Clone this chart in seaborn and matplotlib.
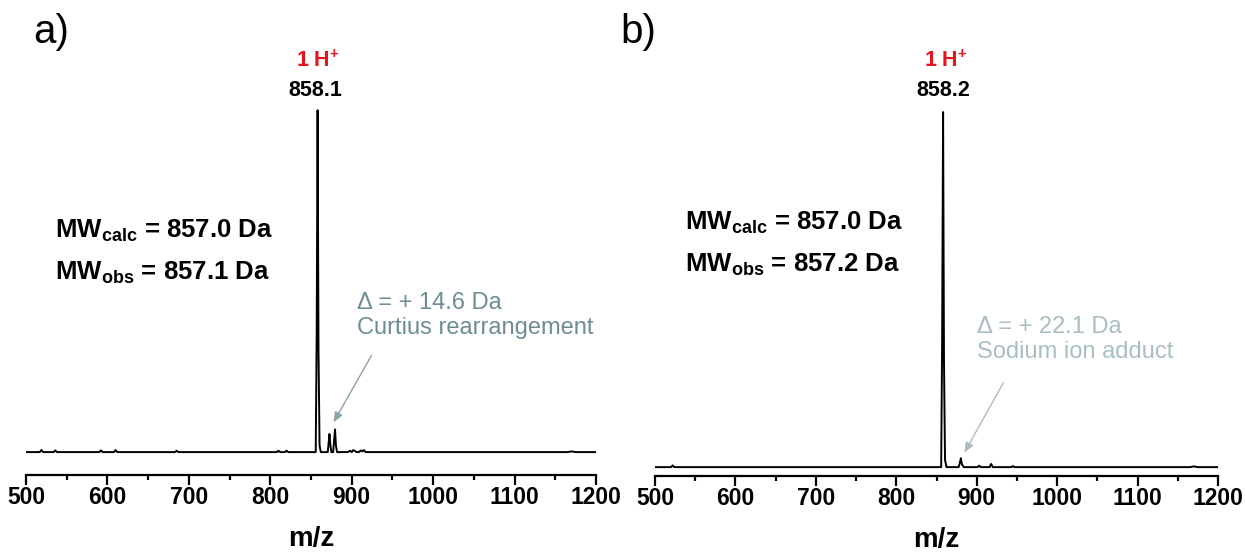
import matplotlib
matplotlib.use("Agg")
import matplotlib.pyplot as plt
from matplotlib.ticker import MultipleLocator
import seaborn as sns

# spectrum a) : m/z and relative intensity (peak list read off the picture)
mz_a = [500, 517, 519, 521, 534, 536, 538, 590, 592, 594, 608, 610, 612,
        683, 685, 687, 808, 810, 812, 818, 820, 822, 855.8, 857.0, 858.1,
        859.2, 860.5, 862.0, 870.6, 871.6, 872.7, 873.8, 875.0, 877.2,
        878.4, 879.5, 880.6, 882.0, 895.0, 898.0, 900.0, 902.0, 906.0,
        909.0, 911.0, 913.0, 915.0, 917.0, 921.0, 1000, 1100, 1165, 1170, 1175, 1200]
int_a = [0.0, 0.0, 0.006, 0.0, 0.0, 0.005, 0.0, 0.0, 0.005, 0.0, 0.0, 0.006, 0.0,
         0.0, 0.004, 0.0, 0.0, 0.004, 0.0, 0.0, 0.004, 0.0, 0.0, 0.35, 1.0,
         0.30, 0.02, 0.0, 0.0, 0.025, 0.053, 0.02, 0.0, 0.0,
         0.035, 0.066, 0.02, 0.0, 0.0, 0.004, 0.0, 0.006, 0.0,
         0.0, 0.005, 0.002, 0.006, 0.0, 0.0, 0.0, 0.0, 0.0, 0.002, 0.0, 0.0]

# spectrum b)
mz_b = [500, 520, 522, 524, 700, 855.8, 857.0, 858.2, 859.3, 860.6, 862.5,
        877.5, 879.0, 880.3, 881.6, 884.0, 901.0, 903.0, 905.0, 916.0, 918.0,
        920.0, 943.0, 945.0, 947.0, 1100, 1165, 1170, 1175, 1200]
int_b = [0.0, 0.0, 0.005, 0.0, 0.0, 0.0, 0.35, 1.0, 0.30, 0.02, 0.0,
         0.0, 0.012, 0.025, 0.008, 0.0, 0.0, 0.004, 0.0, 0.0, 0.009,
         0.0, 0.0, 0.003, 0.0, 0.0, 0.0, 0.002, 0.0, 0.0]

panel_labels = ["a)", "b)"]
ion_label = r"1 H$^{\mathbf{+}}$"
peak_labels = ["858.1", "858.2"]
mw_calc = ["857.0", "857.0"]
mw_obs = ["857.1", "857.2"]
delta_text = ["\u0394 = + 14.6 Da\nCurtius rearrangement",
              "\u0394 = + 22.1 Da\nSodium ion adduct"]

sns.set_style("white")
plt.rcParams["font.family"] = ["Liberation Sans", "DejaVu Sans"]
plt.rcParams["mathtext.fontset"] = "custom"
plt.rcParams["mathtext.rm"] = "Liberation Sans"
plt.rcParams["mathtext.bf"] = "Liberation Sans:bold"
plt.rcParams["text.color"] = "black"
plt.rcParams["axes.labelcolor"] = "black"
plt.rcParams["xtick.color"] = "black"

W, H = 1245, 552
fig = plt.figure(figsize=(W / 100, H / 100), dpi=100)


def px(x, y):
    return x / W, 1 - y / H


# axes boxes in pixels: left, right, spine y, top y ; ylim
boxes = [(26, 596, 475, 100, (-0.067, 1.03)),
         (655, 1218, 476, 100, (-0.025, 1.034))]
data = [(mz_a, int_a), (mz_b, int_b)]

axes = []
for (l, r, b, t, yl), (mz, inten) in zip(boxes, data):
    ax = fig.add_axes([l / W, 1 - b / H, (r - l) / W, (b - t) / H])
    sns.lineplot(x=mz, y=inten, ax=ax, color="black", lw=1.4, estimator=None)
    ax.set_xlim(500, 1200)
    ax.set_ylim(*yl)
    for s in ["left", "right", "top"]:
        ax.spines[s].set_visible(False)
    ax.spines["bottom"].set_linewidth(1.6)
    ax.spines["bottom"].set_color("black")
    ax.set_yticks([])
    ax.xaxis.set_major_locator(MultipleLocator(100))
    ax.xaxis.set_minor_locator(MultipleLocator(50))
    ax.tick_params(axis="x", which="major", direction="out", length=7, width=1.6,
                   pad=1, labelsize=16.5, bottom=True)
    ax.tick_params(axis="x", which="minor", direction="out", length=3.5, width=1.6,
                   bottom=True)
    for lab in ax.get_xticklabels():
        lab.set_fontweight("bold")
    ax.set_xlabel("m/z", fontsize=20, fontweight="bold")
    ax.xaxis.set_label_coords(0.5, -0.135)
    ax.set_ylabel("")
    axes.append(ax)

# panel letters
fig.text(*px(33, 32), panel_labels[0], fontsize=29, va="center", ha="left")
fig.text(*px(620, 32), panel_labels[1], fontsize=29, va="center", ha="left")

# main peak labels
for cx, i in [(315, 0), (943, 1)]:
    fig.text(*px(cx + 3, 61), ion_label, color="#e8141c", fontsize=15.5,
             fontweight="bold", ha="center", va="center")
    fig.text(*px(cx, 91), peak_labels[i], color="black", fontsize=15.5,
             fontweight="bold", ha="center", va="center")

# MW boxes
for lx, y1, y2, i in [(55, 237, 279, 0), (685, 229, 272, 1)]:
    fig.text(*px(lx, y1), r"MW$_{\mathbf{calc}}$ = " + mw_calc[i] + " Da",
             fontsize=18.5, fontweight="bold", ha="left", va="baseline")
    fig.text(*px(lx, y2), r"MW$_{\mathbf{obs}}$ = " + mw_obs[i] + " Da",
             fontsize=18.5, fontweight="bold", ha="left", va="baseline")

# side-product annotations
fig.text(*px(357, 292), delta_text[0], color="#6e8c94", fontsize=17,
         ha="left", va="top", linespacing=1.2)
fig.text(*px(977, 316), delta_text[1], color="#a9bec1", fontsize=17,
         ha="left", va="top", linespacing=1.2)

axes[0].annotate("", xy=(876, 0.08), xytext=(926, 0.29),
                 arrowprops=dict(arrowstyle="-|>,head_length=0.6,head_width=0.25",
                                 color="#8da3aa", lw=1))
axes[1].annotate("", xy=(883, 0.034), xytext=(935, 0.245),
                 arrowprops=dict(arrowstyle="-|>,head_length=0.6,head_width=0.25",
                                 color="#a9bec1", lw=1))

fig.savefig("out.png", dpi=100)
